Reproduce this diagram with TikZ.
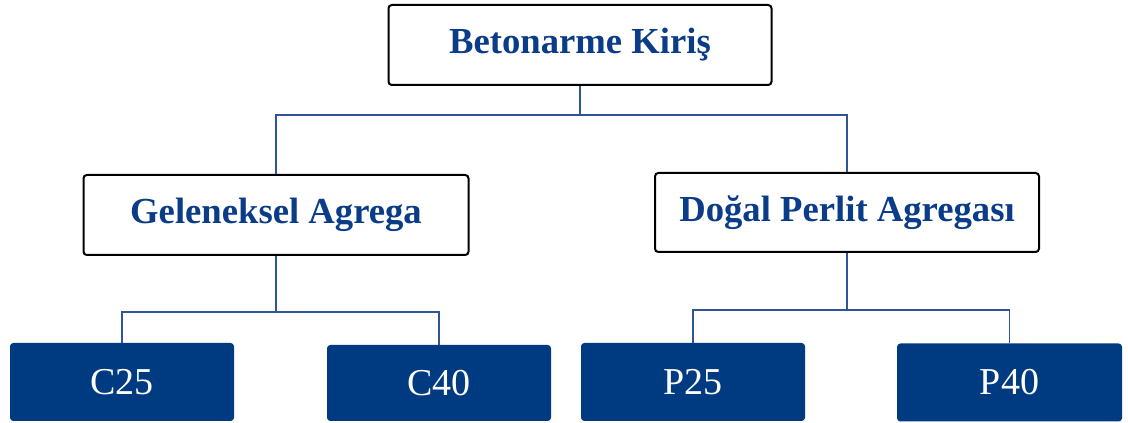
\documentclass[tikz,border=0pt]{standalone}
\usepackage{fontspec}
\setmainfont{Liberation Serif}
\definecolor{navy}{RGB}{0,58,128}
\definecolor{txtblue}{RGB}{10,60,135}
\definecolor{linkblue}{RGB}{47,85,151}
\begin{document}
\begin{tikzpicture}[x=0.75pt,y=-0.75pt,
  whitebox/.style={draw=black, line width=1.5pt, rounded corners=2.5pt, fill=white,
    inner sep=0pt, text=txtblue, font=\fontsize{27.5}{30}\selectfont\bfseries},
  bluebox/.style={fill=navy, rounded corners=2.5pt, inner sep=0pt,
    text=white, font=\fontsize{28.5}{30}\selectfont,
    minimum width=168pt, minimum height=58.5pt},
  conn/.style={draw=linkblue, line width=1.1pt}]
\useasboundingbox (0,0) rectangle (1128,423);
\node[whitebox, minimum width=287.25pt, minimum height=60pt] (top) at (580,45) {Betonarme Kiriş};
\node[whitebox, minimum width=288.75pt, minimum height=60pt] (gel) at (276,215) {Geleneksel Agrega};
\node[whitebox, minimum width=288pt, minimum height=59.25pt] (dog) at (847,212.5) {Doğal Perlit Agregası};
\node[bluebox] (c25) at (122,382) {C25};
\node[bluebox, minimum height=57pt] (c40) at (439,383) {C40};
\node[bluebox] (p25) at (693,382) {P25};
\node[bluebox, minimum width=168.75pt] (p40) at (1009.5,382.5) {P40};
\coordinate (b1) at (0,115);
\coordinate (b2) at (0,312);
\coordinate (b3) at (0,310);
\draw[conn] (top.south) -- (top.south |- b1);
\draw[conn] (gel.north) |- (dog.north |- b1) -- (dog.north);
\draw[conn] (gel.south) -- (gel.south |- b2);
\draw[conn] (c25.north) |- (c40.north |- b2) -- (c40.north);
\draw[conn] (dog.south) -- (dog.south |- b3);
\draw[conn] (p25.north) |- (p40.north |- b3) -- (p40.north);
\end{tikzpicture}
\end{document}
